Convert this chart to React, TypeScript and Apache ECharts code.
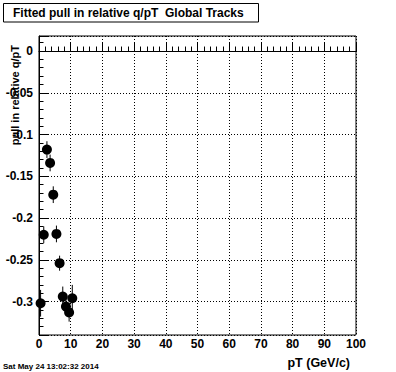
import React, { useEffect, useRef } from "react";
import * as echarts from "echarts";

const pT = [0.5, 1.5, 2.5, 3.5, 4.5, 5.5, 6.5, 7.5, 8.5, 9.5, 10.5];
const pull = [-0.302, -0.22, -0.118, -0.134, -0.172, -0.219, -0.254, -0.294, -0.306, -0.313, -0.296];
const pullErr = [0.016, 0.01, 0.01, 0.01, 0.01, 0.01, 0.009, 0.012, 0.01, 0.011, 0.016];
const binHalfWidth = 0.5;
const zeroLine = 0;

const titleText = "Fitted pull in relative q/pT  Global Tracks";
const yTitle = "pull in relative q/pT";
const xTitle = "pT (GeV/c)";
const dateText = "Sat May 24 13:02:32 2014";

const FONT = '"Liberation Sans", Arial, Helvetica, sans-serif';

export default function App() {
  const ref = useRef<HTMLDivElement>(null);
  useEffect(() => {
    if (!ref.current) return;
    const chart = echarts.init(ref.current, null, { renderer: "svg" });
    const pts = pT.map((x, i) => [x, pull[i], pullErr[i]]);
    const dotted = { color: "#000", width: 1, type: [1, 2] as any };
    chart.setOption({
      animation: false,
      backgroundColor: "#fff",
      grid: {
        left: 39,
        right: 40,
        top: 36,
        bottom: 37,
        show: true,
        borderColor: "#000",
        borderWidth: 1,
        containLabel: false,
      },
      xAxis: {
        type: "value",
        min: 0,
        max: 100,
        interval: 10,
        axisLine: { show: true, lineStyle: { color: "#000", width: 1 } },
        axisTick: { show: true, inside: true, length: 9, lineStyle: { color: "#000" } },
        minorTick: { show: true, splitNumber: 5, length: 4.5, lineStyle: { color: "#000" } },
        splitLine: { show: true, lineStyle: dotted },
        axisLabel: {
          color: "#000",
          fontFamily: FONT,
          fontWeight: "bold",
          fontSize: 12,
          margin: 3,
        },
      },
      yAxis: {
        type: "value",
        min: -0.34,
        max: 0.018,
        splitNumber: 7,
        axisLine: { show: true, lineStyle: { color: "#000", width: 1 } },
        axisTick: { show: true, inside: true, length: 9, lineStyle: { color: "#000" } },
        minorTick: { show: true, splitNumber: 5, length: 4.5, lineStyle: { color: "#000" } },
        splitLine: { show: true, lineStyle: dotted },
        axisLabel: {
          color: "#000",
          fontFamily: FONT,
          fontWeight: "bold",
          fontSize: 12,
          margin: 6,
          showMinLabel: false,
          showMaxLabel: false,
          formatter: (v: number) => {
            const r = Math.round(v * 1000) / 1000;
            return r === 0 ? "0" : String(r);
          },
        },
      },
      series: [
        {
          type: "custom",
          data: pts,
          clip: false,
          renderItem: (params: any, api: any) => {
            const x = api.value(0);
            const y = api.value(1);
            const e = api.value(2);
            const top = api.coord([x, y + e]);
            const bot = api.coord([x, y - e]);
            const l = api.coord([x - binHalfWidth, y]);
            const r = api.coord([x + binHalfWidth, y]);
            return {
              type: "group",
              children: [
                {
                  type: "line",
                  shape: { x1: top[0], y1: top[1], x2: bot[0], y2: bot[1] },
                  style: { stroke: "#000", lineWidth: 1 },
                },
                {
                  type: "line",
                  shape: { x1: l[0], y1: l[1], x2: r[0], y2: r[1] },
                  style: { stroke: "#000", lineWidth: 1 },
                },
              ],
            };
          },
          z: 2,
        },
        {
          type: "scatter",
          data: pts.map((p) => [p[0], p[1]]),
          symbol: "circle",
          symbolSize: 10,
          clip: false,
          itemStyle: { color: "#000", opacity: 1 },
          z: 3,
          markLine: {
            silent: true,
            symbol: "none",
            label: { show: false },
            lineStyle: { color: "#000", width: 1, type: "solid", opacity: 1 },
            data: [{ yAxis: zeroLine }],
          },
        },
      ],
      graphic: [
        {
          type: "rect",
          shape: { x: 3.5, y: 3.5, width: 255, height: 18.5 },
          style: { fill: "#fff", stroke: "#000", lineWidth: 1 },
        },
        {
          type: "text",
          x: 13,
          y: 13,
          style: {
            text: titleText,
            fill: "#000",
            fontFamily: FONT,
            fontWeight: "bold",
            fontSize: 12,
            verticalAlign: "middle",
            align: "left",
          },
        },
        {
          type: "text",
          x: 15,
          y: 45,
          rotation: Math.PI / 2,
          style: {
            text: yTitle,
            fill: "#000",
            fontFamily: FONT,
            fontWeight: "bold",
            fontSize: 11,
            verticalAlign: "middle",
            align: "right",
          },
        },
        {
          type: "text",
          x: 350,
          y: 363,
          style: {
            text: xTitle,
            fill: "#000",
            fontFamily: FONT,
            fontWeight: "bold",
            fontSize: 12.5,
            verticalAlign: "middle",
            align: "right",
          },
        },
        {
          type: "text",
          x: 3,
          y: 366,
          style: {
            text: dateText,
            fill: "#000",
            fontFamily: FONT,
            fontWeight: "bold",
            fontSize: 8,
            verticalAlign: "middle",
            align: "left",
          },
        },
      ],
    });
    return () => chart.dispose();
  }, []);
  return (
    <div
      ref={ref}
      style={{ position: "absolute", left: 0, top: 0, width: 396, height: 372 }}
    />
  );
}
